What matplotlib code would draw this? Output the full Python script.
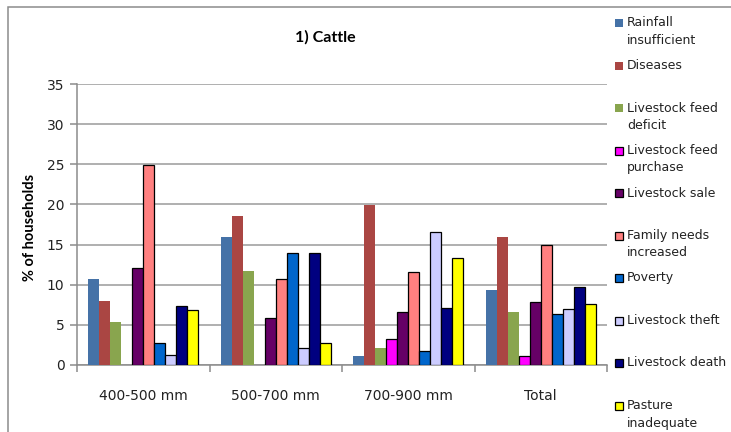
# Cattle: reasons for selling, % of households by rainfall zone

import numpy as np
import matplotlib.pyplot as plt
from matplotlib.patches import Rectangle

zones = ['400-500 mm', '500-700 mm', '700-900 mm', 'Total']
causes = ['Rainfall\ninsufficient', 'Diseases', 'Livestock feed\ndeficit',
          'Livestock feed\npurchase', 'Livestock sale', 'Family needs\nincreased',
          'Poverty', 'Livestock theft', 'Livestock death', 'Pasture\ninadequate']

rainfall = [10.7, 16.0, 1.1, 9.3]
diseases = [8.0, 18.6, 19.9, 16.0]
feed_deficit = [5.3, 11.7, 2.1, 6.6]
feed_purchase = [0.0, 0.0, 3.3, 1.1]
sale = [12.1, 5.8, 6.6, 7.9]
family = [24.9, 10.7, 11.6, 15.0]
poverty = [2.8, 13.9, 1.7, 6.4]
theft = [1.3, 2.1, 16.6, 7.0]
death = [7.4, 13.9, 7.1, 9.7]
pasture = [6.8, 2.7, 13.3, 7.6]

series = [rainfall, diseases, feed_deficit, feed_purchase, sale,
          family, poverty, theft, death, pasture]
colors = ['#4572A7', '#AA4643', '#89A54E', '#FF00FF', '#660066',
          '#FF8080', '#0066CC', '#CCCCFF', '#000080', '#FFFF00']
edged = [False, False, False, True, True, True, True, True, True, True]

W, H = 731, 432
fig = plt.figure(figsize=(W/100, H/100), dpi=100)
ax = fig.add_axes([77/W, 1-365/H, 530/W, 281/H])

x = np.arange(len(zones))
bw = 1/12
for i, vals in enumerate(series):
    # zero-height bars show no outline
    ec = ['black' if (edged[i] and v > 0) else 'none' for v in vals]
    ax.bar(x + (i-4.5)*bw, vals, width=bw, color=colors[i],
           edgecolor=ec, linewidth=0.9, zorder=3)

ax.set_xlim(-0.5, 3.5)
ax.set_ylim(0, 35)
ax.set_yticks(np.arange(0, 36, 5))
ax.yaxis.grid(True, color='#9a9a9a', linewidth=1.1, zorder=0)
ax.set_axisbelow(True)
for s in ('top', 'right'):
    ax.spines[s].set_visible(False)
for s in ('left', 'bottom'):
    ax.spines[s].set_color('#8c8c8c')
    ax.spines[s].set_linewidth(1.1)

ax.set_xticks(np.arange(-0.5, 3.6, 1))
ax.set_xticklabels([])
ax.set_xticks(x, minor=True)
ax.set_xticklabels(zones, minor=True, fontsize=10, color='#222222')
ax.tick_params(axis='x', which='major', length=5, color='#8c8c8c', width=1.1)
ax.tick_params(axis='x', which='minor', length=0, pad=17)
ax.tick_params(axis='y', length=5, color='#8c8c8c', width=1.1,
               labelsize=10, labelcolor='#222222', pad=4)

fig.text(30/W, 1-227/H, '% of households', rotation=90, ha='center',
         va='center', fontsize=10.5, fontweight='bold', family='Lato')
fig.text(325/W, 1-37/H, '1) Cattle', ha='center', va='center',
         fontsize=11.5, fontweight='bold', family='Lato')

# legend drawn by hand, one entry every ~42.5 px
for i, name in enumerate(causes):
    yc = 23 + 42.5*i
    fig.patches.append(Rectangle((615/W, 1-(yc+4)/H), 8/W, 8/H,
                                 transform=fig.transFigure,
                                 facecolor=colors[i],
                                 edgecolor='black' if edged[i] else 'none',
                                 linewidth=0.9))
    fig.text(627/W, 1-(yc-6.5)/H, name, ha='left', va='top', fontsize=9,
             linespacing=1.45, color='#222222')

# chart area frame
fig.patches.append(Rectangle((7.5/W, -0.1), 1.2, 1-7.5/H+0.1,
                             transform=fig.transFigure, fill=False,
                             edgecolor='#8c8c8c', linewidth=1.1))

plt.savefig('out.png', dpi=100)
